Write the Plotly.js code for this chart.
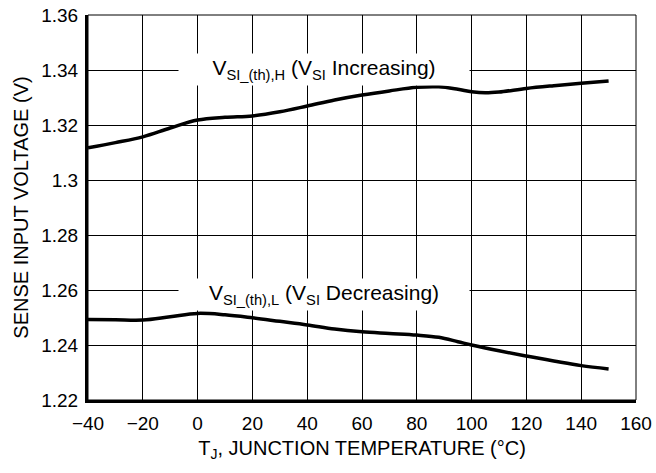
<!DOCTYPE html>
<html><head><meta charset="utf-8">
<script src="https://cdn.plot.ly/plotly-3.0.1.min.js"></script>
<style>html,body{margin:0;padding:0;background:#fff}#c{width:656px;height:473px}</style>
</head><body><div id="c"></div>
<script>
const tempH = [-40, -30, -20, -10, 0, 10, 20, 30, 40, 50, 60, 70, 80, 88, 95, 100, 105, 110, 120, 130, 140, 150];
const voltH = [1.3117, 1.3136, 1.3157, 1.3189, 1.3218, 1.3228, 1.3233, 1.3248, 1.3269, 1.3291, 1.3309, 1.3324, 1.3337, 1.3339, 1.3330, 1.3321, 1.3317, 1.3320, 1.3333, 1.3343, 1.3352, 1.3360];
const tempL = [-40, -30, -20, -10, 0, 10, 20, 30, 40, 50, 60, 70, 80, 88, 95, 100, 110, 120, 130, 140, 150];
const voltL = [1.2493, 1.2492, 1.2491, 1.2503, 1.2515, 1.2510, 1.2499, 1.2486, 1.2473, 1.2458, 1.2448, 1.2442, 1.2436, 1.2428, 1.2412, 1.2400, 1.2379, 1.2360, 1.2342, 1.2325, 1.2313];
const xTicks = [-40, -20, 0, 20, 40, 60, 80, 100, 120, 140, 160];
const xTickText = ["\u221240", "\u221220", "0", "20", "40", "60", "80", "100", "120", "140", "160"];
const yTicks = [1.22, 1.24, 1.26, 1.28, 1.30, 1.32, 1.34, 1.36];
const yTickText = ["1.22", "1.24", "1.26", "1.28", "1.3", "1.32", "1.34", "1.36"];
const labelH = "V<sub>SI_(th),H</sub> (V<sub>SI</sub> Increasing)";
const labelL = "V<sub>SI_(th),L</sub> (V<sub>SI</sub> Decreasing)";

const fam = "Liberation Sans, Arial, Helvetica, sans-serif";
const tickFont = {family: fam, size: 19, color: "#000"};
const titleFont = {family: fam, size: 20, color: "#000"};
const annFont = {family: fam, size: 21, color: "#000"};
const traces = [
  {x: tempH, y: voltH, mode: "lines", line: {color: "#000", width: 3.5, shape: "spline"}, hoverinfo: "skip"},
  {x: tempL, y: voltL, mode: "lines", line: {color: "#000", width: 3.5, shape: "spline"}, hoverinfo: "skip"}
];
const layout = {
  width: 656, height: 473,
  margin: {l: 88, r: 20, t: 15, b: 73},
  paper_bgcolor: "#fff", plot_bgcolor: "#fff",
  showlegend: false,
  font: tickFont,
  xaxis: {
    range: [-40, 160], tickvals: xTicks, ticktext: xTickText,
    showgrid: true, gridcolor: "#000", gridwidth: 1,
    showline: true, linecolor: "#000", linewidth: 3,
    zeroline: false, ticks: "", ticklen: 0, tickfont: tickFont, ticklabelstandoff: 4,
    title: {text: "T<sub>J</sub>, JUNCTION TEMPERATURE (\u00b0C)", font: titleFont, standoff: 9}
  },
  yaxis: {
    range: [1.22, 1.36], tickvals: yTicks, ticktext: yTickText,
    showgrid: true, gridcolor: "#000", gridwidth: 1,
    showline: true, linecolor: "#000", linewidth: 3,
    zeroline: false, ticks: "", ticklen: 0, tickfont: tickFont, ticklabelstandoff: 3,
    title: {text: "SENSE INPUT VOLTAGE (V)", font: titleFont, standoff: 8}
  },
  shapes: [
    {type: "rect", xref: "paper", yref: "paper", x0: 0, x1: 1, y0: 0, y1: 1, line: {color: "#000", width: 1}}
  ],
  annotations: [
    {x: 46, y: 1.3401, xref: "x", yref: "y", text: labelH, showarrow: false, bgcolor: "#fff", width: 290, height: 31, font: annFont, borderpad: 0},
    {x: 46, y: 1.2585, xref: "x", yref: "y", text: labelL, showarrow: false, bgcolor: "#fff", width: 290, height: 31, font: annFont, borderpad: 0}
  ]
};
Plotly.newPlot("c", traces, layout, {displayModeBar: false, staticPlot: true});
</script>
</body></html>
